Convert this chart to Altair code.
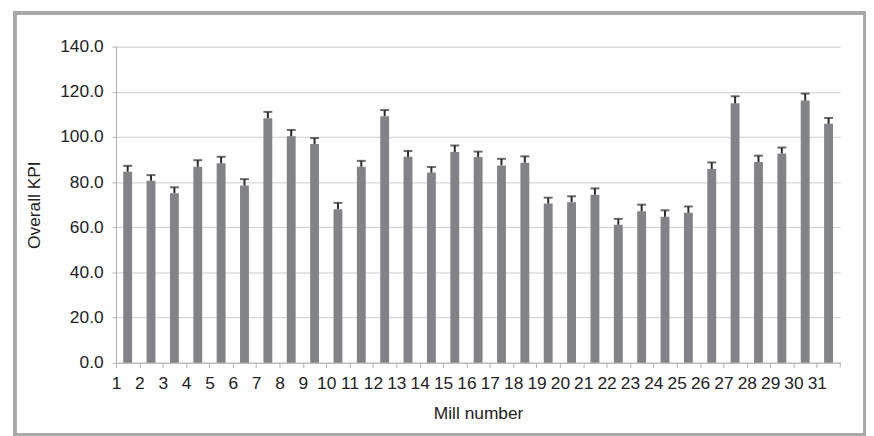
import altair as alt
import pandas as pd

mills = [str(i) for i in range(1, 32)]
kpi = [84.6, 80.6, 75.1, 86.8, 88.3, 78.5, 108.3, 100.3, 96.9, 68.0,
       86.8, 109.2, 91.2, 84.2, 93.3, 91.1, 87.4, 88.6, 70.5, 71.1,
       74.4, 61.1, 67.1, 64.6, 66.4, 85.8, 114.9, 88.9, 92.7, 116.1, 105.8]
err = [2.6, 2.5, 2.6, 2.9, 2.9, 2.8, 2.8, 2.8, 2.6, 2.8,
       2.6, 2.7, 2.6, 2.5, 2.9, 2.4, 2.9, 2.8, 2.6, 2.6,
       2.8, 2.6, 2.9, 2.9, 2.8, 2.9, 3.1, 2.8, 2.6, 3.1, 2.6]
y_ticks = [0, 20, 40, 60, 80, 100, 120, 140]

df = pd.DataFrame({"mill": mills, "kpi": kpi, "err": err})
df["hi"] = df["kpi"] + df["err"]

W, H = 731, 319
STEP = W / len(mills)
FONT = "Liberation Sans"

xscale = alt.Scale(domain=mills, paddingInner=0.62, paddingOuter=0.31)
xenc = alt.X("mill:N", scale=xscale, sort=mills,
             axis=alt.Axis(title="Mill number", labelAngle=0,
                           tickOffset=-STEP / 2,
                           tickSize=5, labelPadding=7, titlePadding=13,
                           domainColor="#b0b0b0", tickColor="#b0b0b0",
                           grid=False))
yscale = alt.Scale(domain=[0, 140], nice=False)

base = alt.Chart(df)

bars = base.mark_bar(color="#828386").encode(
    x=xenc,
    y=alt.Y("kpi:Q", scale=yscale,
            axis=alt.Axis(title="Overall KPI", values=y_ticks, format=".1f",
                          tickSize=4, labelPadding=9, titlePadding=16,
                          domainColor="#b0b0b0", tickColor="#b0b0b0",
                          gridColor="#cccccc", grid=True)),
)

stems = base.mark_rule(color="#2a2a2a", strokeWidth=2).encode(
    x=alt.X("mill:N", scale=xscale, sort=mills),
    y=alt.Y("kpi:Q", scale=yscale),
    y2="hi:Q",
)

caps = base.mark_tick(color="#2a2a2a", thickness=2, size=9, orient="horizontal").encode(
    x=alt.X("mill:N", scale=xscale, sort=mills),
    y=alt.Y("hi:Q", scale=yscale),
)

one = alt.Chart(pd.DataFrame({"a": [0]}))
end_tick = one.mark_rule(color="#b0b0b0").encode(
    x=alt.value(W), y=alt.value(H), y2=alt.value(H + 5))
frame = one.mark_rect(filled=False, stroke="#a8a8a8", strokeWidth=4).encode(
    x=alt.value(-102), x2=alt.value(756), y=alt.value(-34), y2=alt.value(392))

chart = alt.layer(bars, stems, caps, end_tick, frame).properties(
    width=W, height=H,
    autosize=alt.AutoSizeParams(type="none"),
    padding={"left": 109, "top": 37, "right": 26, "bottom": 72},
).configure(background="white").configure_view(stroke=None).configure_axis(
    labelFont=FONT, titleFont=FONT, labelFontSize=17.5, titleFontSize=17.5,
    labelColor="#222222", titleColor="#222222", titleFontWeight="normal",
)

chart.save("out.html", embed_options={"renderer": "svg", "actions": False})
